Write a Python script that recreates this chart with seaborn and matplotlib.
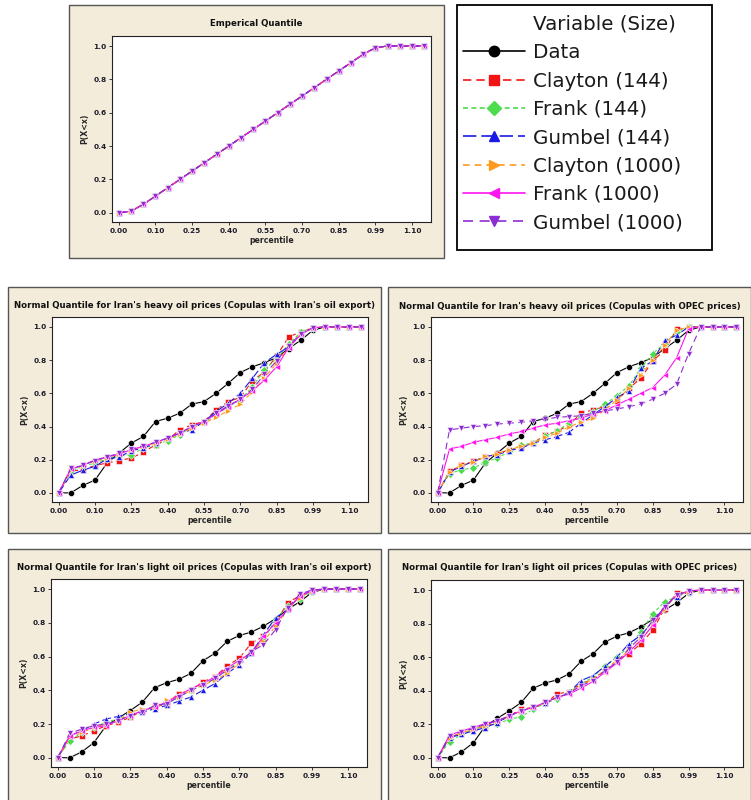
import numpy as np
import pandas as pd
import matplotlib
matplotlib.use("Agg")
import matplotlib.pyplot as plt
from matplotlib.patches import Rectangle
from matplotlib.lines import Line2D
import seaborn as sns

# percentile grid (x categories) and tick labels
pct = [0.00, 0.01, 0.05, 0.10, 0.15, 0.20, 0.25, 0.30, 0.35, 0.40, 0.45, 0.50, 0.55,
       0.60, 0.65, 0.70, 0.75, 0.80, 0.85, 0.90, 0.95, 0.99, 1.00, 1.05, 1.10, 1.15]
tick_idx = [0, 3, 6, 9, 12, 15, 18, 21, 24]
tick_lab = ["0.00", "0.10", "0.25", "0.40", "0.55", "0.70", "0.85", "0.99", "1.10"]

series = ["Data", "Clayton (144)", "Frank (144)", "Gumbel (144)",
          "Clayton (1000)", "Frank (1000)", "Gumbel (1000)"]

# empirical quantile (all series sit on the same curve)
emp_q = [0, 0.01, 0.05, 0.10, 0.15, 0.20, 0.25, 0.30, 0.35, 0.40, 0.45, 0.50, 0.55,
         0.60, 0.65, 0.70, 0.75, 0.80, 0.85, 0.90, 0.95, 0.99, 1, 1, 1, 1]

# observed data
data_heavy = [0, 0, 0.045, 0.077, 0.18, 0.24, 0.30, 0.34, 0.43, 0.45, 0.48, 0.535, 0.55,
              0.60, 0.66, 0.725, 0.76, 0.785, 0.815, 0.87, 0.92, 0.98, 1, 1, 1, 1]
data_light = [0, 0, 0.035, 0.09, 0.19, 0.235, 0.28, 0.33, 0.415, 0.445, 0.465, 0.50, 0.575,
              0.62, 0.69, 0.725, 0.745, 0.78, 0.825, 0.88, 0.925, 0.98, 1, 1, 1, 1]

# heavy oil, copulas with Iran's oil export
clay144_he = [0, 0.13, 0.14, 0.165, 0.18, 0.195, 0.21, 0.245, 0.29, 0.32, 0.38, 0.41, 0.43,
              0.50, 0.55, 0.575, 0.675, 0.73, 0.825, 0.94, 0.97, 0.995, 1, 1, 1, 1]
frank144_he = [0, 0.13, 0.16, 0.18, 0.205, 0.225, 0.23, 0.27, 0.29, 0.315, 0.35, 0.40, 0.425,
               0.47, 0.52, 0.56, 0.64, 0.74, 0.81, 0.895, 0.97, 0.995, 1, 1, 1, 1]
gumb144_he = [0, 0.107, 0.137, 0.16, 0.205, 0.215, 0.255, 0.27, 0.30, 0.33, 0.36, 0.38, 0.43,
              0.49, 0.54, 0.60, 0.69, 0.785, 0.835, 0.88, 0.955, 0.995, 1, 1, 1, 1]
clay1000_he = [0, 0.14, 0.17, 0.19, 0.21, 0.235, 0.26, 0.28, 0.30, 0.325, 0.355, 0.39, 0.42,
               0.455, 0.495, 0.535, 0.61, 0.695, 0.78, 0.88, 0.96, 0.995, 1, 1, 1, 1]
frank1000_he = [0, 0.145, 0.165, 0.20, 0.215, 0.235, 0.26, 0.28, 0.305, 0.33, 0.36, 0.40, 0.43,
                0.475, 0.52, 0.565, 0.615, 0.68, 0.76, 0.875, 0.955, 0.995, 1, 1, 1, 1]
gumb1000_he = [0, 0.147, 0.165, 0.195, 0.217, 0.24, 0.265, 0.284, 0.305, 0.33, 0.36, 0.40, 0.43,
               0.48, 0.525, 0.565, 0.625, 0.715, 0.795, 0.885, 0.96, 0.995, 1, 1, 1, 1]

# heavy oil, copulas with OPEC prices
clay144_ho = [0, 0.13, 0.165, 0.19, 0.215, 0.235, 0.26, 0.275, 0.30, 0.35, 0.37, 0.41, 0.48,
              0.50, 0.52, 0.555, 0.63, 0.69, 0.795, 0.86, 0.985, 1, 1, 1, 1, 1]
frank144_ho = [0, 0.115, 0.14, 0.15, 0.185, 0.21, 0.25, 0.29, 0.30, 0.34, 0.375, 0.42, 0.455,
               0.49, 0.535, 0.585, 0.645, 0.75, 0.84, 0.90, 0.97, 1, 1, 1, 1, 1]
gumb144_ho = [0, 0.125, 0.16, 0.19, 0.22, 0.23, 0.255, 0.27, 0.30, 0.32, 0.34, 0.365, 0.42,
              0.47, 0.52, 0.575, 0.615, 0.75, 0.795, 0.92, 0.95, 1, 1, 1, 1, 1]
clay1000_ho = [0, 0.127, 0.168, 0.188, 0.22, 0.237, 0.257, 0.283, 0.30, 0.335, 0.36, 0.40, 0.425,
               0.45, 0.50, 0.56, 0.63, 0.71, 0.80, 0.89, 0.98, 1, 1, 1, 1, 1]
frank1000_ho = [0, 0.265, 0.28, 0.305, 0.32, 0.335, 0.355, 0.37, 0.39, 0.41, 0.42, 0.435, 0.45,
                0.475, 0.495, 0.53, 0.565, 0.60, 0.635, 0.71, 0.815, 0.99, 1, 1, 1, 1]
gumb1000_ho = [0, 0.38, 0.39, 0.40, 0.405, 0.415, 0.42, 0.425, 0.435, 0.445, 0.455, 0.46, 0.465,
               0.48, 0.495, 0.505, 0.52, 0.535, 0.565, 0.60, 0.655, 0.84, 1, 1, 1, 1]

# light oil, copulas with Iran's oil export
clay144_le = [0, 0.11, 0.13, 0.16, 0.19, 0.21, 0.24, 0.28, 0.30, 0.32, 0.38, 0.40, 0.45,
              0.48, 0.545, 0.59, 0.68, 0.72, 0.80, 0.92, 0.96, 0.995, 1, 1, 1, 1]
frank144_le = [0, 0.10, 0.15, 0.18, 0.21, 0.23, 0.25, 0.28, 0.30, 0.325, 0.36, 0.40, 0.43,
               0.47, 0.52, 0.57, 0.63, 0.70, 0.82, 0.90, 0.94, 0.99, 1, 1, 1, 1]
gumb144_le = [0, 0.13, 0.16, 0.20, 0.23, 0.245, 0.26, 0.27, 0.29, 0.31, 0.335, 0.36, 0.40,
              0.44, 0.50, 0.55, 0.62, 0.73, 0.83, 0.88, 0.96, 0.99, 1, 1, 1, 1]
clay1000_le = [0, 0.12, 0.15, 0.18, 0.20, 0.22, 0.27, 0.29, 0.30, 0.34, 0.36, 0.40, 0.43,
               0.46, 0.50, 0.56, 0.63, 0.69, 0.78, 0.88, 0.95, 0.99, 1, 1, 1, 1]
frank1000_le = [0, 0.13, 0.16, 0.18, 0.19, 0.22, 0.25, 0.28, 0.30, 0.33, 0.37, 0.41, 0.44,
                0.48, 0.53, 0.58, 0.62, 0.72, 0.80, 0.88, 0.96, 0.99, 1, 1, 1, 1]
gumb1000_le = [0, 0.145, 0.17, 0.19, 0.20, 0.22, 0.25, 0.27, 0.31, 0.32, 0.36, 0.40, 0.43,
               0.47, 0.52, 0.56, 0.63, 0.67, 0.76, 0.89, 0.97, 0.995, 1, 1, 1, 1]

# light oil, copulas with OPEC prices
clay144_lo = [0, 0.12, 0.15, 0.17, 0.19, 0.21, 0.25, 0.29, 0.30, 0.325, 0.38, 0.395, 0.44,
              0.47, 0.52, 0.58, 0.62, 0.68, 0.76, 0.89, 0.98, 0.995, 1, 1, 1, 1]
frank144_lo = [0, 0.095, 0.14, 0.17, 0.19, 0.20, 0.23, 0.245, 0.29, 0.325, 0.35, 0.39, 0.44,
               0.48, 0.55, 0.60, 0.66, 0.75, 0.86, 0.93, 0.96, 0.99, 1, 1, 1, 1]
gumb144_lo = [0, 0.12, 0.14, 0.16, 0.18, 0.21, 0.25, 0.28, 0.30, 0.325, 0.36, 0.39, 0.46,
              0.49, 0.545, 0.60, 0.68, 0.73, 0.81, 0.90, 0.96, 0.99, 1, 1, 1, 1]
clay1000_lo = [0, 0.12, 0.15, 0.17, 0.19, 0.22, 0.25, 0.28, 0.30, 0.33, 0.36, 0.39, 0.43,
               0.47, 0.52, 0.58, 0.64, 0.70, 0.79, 0.89, 0.97, 0.99, 1, 1, 1, 1]
frank1000_lo = [0, 0.135, 0.16, 0.18, 0.205, 0.22, 0.25, 0.28, 0.30, 0.33, 0.36, 0.38, 0.415,
                0.455, 0.51, 0.565, 0.63, 0.70, 0.79, 0.90, 0.97, 0.995, 1, 1, 1, 1]
gumb1000_lo = [0, 0.13, 0.155, 0.175, 0.20, 0.22, 0.25, 0.28, 0.30, 0.33, 0.36, 0.385, 0.43,
               0.46, 0.52, 0.57, 0.65, 0.72, 0.82, 0.90, 0.97, 0.995, 1, 1, 1, 1]

colors = {"Data": "black", "Clayton (144)": "#f01414", "Frank (144)": "#4cdc4c",
          "Gumbel (144)": "#1a1ae6", "Clayton (1000)": "#ff9a1e",
          "Frank (1000)": "#ff14f0", "Gumbel (1000)": "#8c2cd2"}
markers = {"Data": "o", "Clayton (144)": "s", "Frank (144)": "D", "Gumbel (144)": "^",
           "Clayton (1000)": ">", "Frank (1000)": "<", "Gumbel (1000)": "v"}
dashes = {"Data": "", "Clayton (144)": (5, 3), "Frank (144)": (3, 2), "Gumbel (144)": (8, 3),
          "Clayton (1000)": (4, 3), "Frank (1000)": "", "Gumbel (1000)": (6, 4)}

BEIGE = "#f4ecdb"
W, H = 751, 800

sns.set_theme(style="white")
plt.rcParams["font.family"] = ["DejaVu Sans"]

fig = plt.figure(figsize=(W / 100, H / 100), dpi=100)
fig.patch.set_facecolor("white")


def frame(x0, y0, x1, y1, face=BEIGE, edge="#555555", lw=1.0):
    fig.add_artist(Rectangle((x0 / W, 1 - y1 / H), (x1 - x0) / W, (y1 - y0) / H,
                             transform=fig.transFigure, facecolor=face,
                             edgecolor=edge, lw=lw, zorder=-1))


def make_ax(l, r, t, b):
    return fig.add_axes([l / W, 1 - b / H, (r - l) / W, (b - t) / H])


def draw(ax, cols, title, fx0, fx1, ty):
    rows = []
    for name, vals in zip(series, cols):
        for i, v in enumerate(vals):
            rows.append({"idx": i, "P": v, "Variable": name})
    df = pd.DataFrame(rows)
    sns.lineplot(data=df, x="idx", y="P", hue="Variable", style="Variable",
                 hue_order=series, style_order=series, palette=colors,
                 markers=markers, dashes=dashes, sort=False, lw=0.8,
                 markersize=4.4, markeredgewidth=0.4, legend=False, ax=ax)
    ax.set_facecolor("white")
    ax.set_xlim(-0.55, 25.55)
    ax.set_ylim(-0.055, 1.06)
    ax.set_xticks(tick_idx)
    ax.set_xticklabels(tick_lab)
    ax.set_yticks([0, 0.2, 0.4, 0.6, 0.8, 1.0])
    ax.set_yticklabels(["0.0", "0.2", "0.4", "0.6", "0.8", "1.0"])
    ax.tick_params(axis="both", direction="out", length=2.5, width=0.6, pad=1.5,
                   labelsize=5.3, colors="#1b1b2b", left=True, bottom=True)
    for lab in ax.get_xticklabels() + ax.get_yticklabels():
        lab.set_fontweight("bold")
    for s in ax.spines.values():
        s.set_color("#222222")
        s.set_linewidth(0.8)
    ax.set_xlabel("percentile", fontsize=5.6, fontweight="bold", labelpad=1.5)
    ax.set_ylabel("P(X<x)", fontsize=5.6, fontweight="bold", labelpad=3)
    fig.text((fx0 + fx1) / 2 / W, 1 - ty / H, title, ha="center", va="center",
             fontsize=6.2, fontweight="bold", color="#111111")


# panel frames
frame(69, 5, 444, 258)
frame(8, 287, 381, 533)
frame(388, 287, 751, 533)
frame(8, 549, 381, 801)
frame(388, 549, 751, 801)
# legend box
frame(457, 5, 712, 250, face="white", edge="black", lw=1.3)

ax_top = make_ax(112, 431, 36, 222)
draw(ax_top, [emp_q] * 7, "Emperical Quantile", 69, 444, 23)

ax_he = make_ax(52, 368, 317, 502)
draw(ax_he, [data_heavy, clay144_he, frank144_he, gumb144_he, clay1000_he, frank1000_he, gumb1000_he],
     "Normal Quantile for Iran's heavy oil prices (Copulas with Iran's oil export)", 8, 381, 305)

ax_ho = make_ax(431, 743, 317, 502)
draw(ax_ho, [data_heavy, clay144_ho, frank144_ho, gumb144_ho, clay1000_ho, frank1000_ho, gumb1000_ho],
     "Normal Quantile for Iran's heavy oil prices (Copulas with OPEC prices)", 388, 751, 306)

ax_le = make_ax(51, 367, 579, 767)
draw(ax_le, [data_light, clay144_le, frank144_le, gumb144_le, clay1000_le, frank1000_le, gumb1000_le],
     "Normal Quantile for Iran's light oil prices (Copulas with Iran's oil export)", 8, 381, 568)

ax_lo = make_ax(431, 743, 580, 767)
draw(ax_lo, [data_light, clay144_lo, frank144_lo, gumb144_lo, clay1000_lo, frank1000_lo, gumb1000_lo],
     "Normal Quantile for Iran's light oil prices (Copulas with OPEC prices)", 388, 751, 568)

# legend, with the title as a blank first row so it lines up with the labels
handles = [Line2D([], [], color="none")]
labels = ["Variable (Size)"]
for name in series:
    handles.append(Line2D([], [], color=colors[name], marker=markers[name], markersize=7.5,
                          lw=1.2, dashes=dashes[name] if dashes[name] else (None, None)))
    labels.append(name)
leg = fig.legend(handles, labels, loc="upper left", bbox_to_anchor=(459 / W, 1 - 11 / H),
                 fontsize=14.3, frameon=False, handlelength=3.1, handletextpad=0.45,
                 labelspacing=0.47, borderpad=0.2, borderaxespad=0)
for t in leg.get_texts():
    t.set_color("#1a1a1a")

fig.savefig("out.png", dpi=100)
